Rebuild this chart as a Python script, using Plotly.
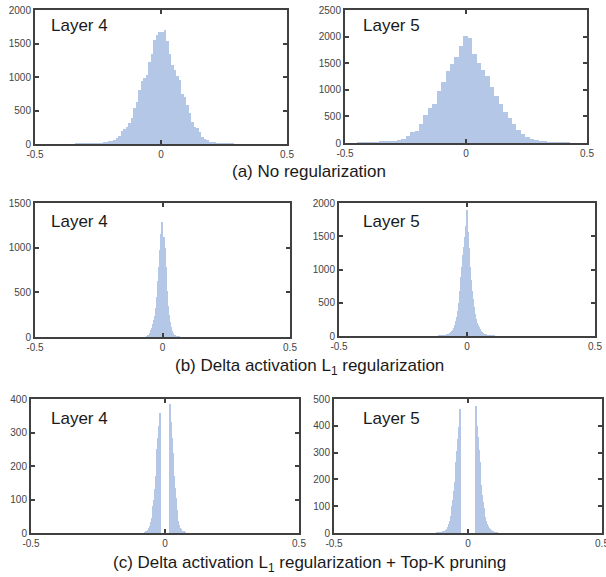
import numpy as np
import plotly.graph_objects as go

# ---------------- data ----------------
# (a) No regularization
A4_START, A4_BIN = -0.335, 0.01
A4_COUNTS = [1, 2, 2, 3, 4, 5, 6, 8, 10, 12, 15, 20, 35, 40, 50, 65, 85, 120, 195, 220,
             260, 310, 385, 530, 630, 805, 940, 980, 1030, 1230, 1340, 1550, 1625, 1670,
             1670, 1700, 1530, 1340, 1180, 1110, 1010, 955, 740, 705, 580, 460, 335, 260,
             235, 185, 110, 80, 60, 35, 25, 18, 12, 8, 6, 4, 3, 2, 1]

A5_START, A5_BIN = -0.4412, 0.0183
A5_COUNTS = [5, 8, 10, 12, 15, 20, 25, 30, 45, 60, 75, 125, 200, 220, 355, 530, 655, 740,
             970, 1155, 1345, 1490, 1625, 1815, 2020,
             1980, 1670, 1500, 1375, 1265, 1060, 890, 740, 580, 470, 355, 240, 160, 105,
             70, 50, 30, 20, 12, 8, 5, 3, 2]

# (b) Delta activation L1 regularization
B4_START, B4_BIN = -0.060, 0.004
B4_COUNTS = [5, 12, 28, 45, 78, 105, 140, 185, 240, 330, 450, 630, 787, 975, 1150, 1290,
             1120, 1000, 787, 520, 350, 250, 170, 110, 70, 45, 25, 15, 10, 6, 4, 2]

B5_START, B5_BIN = -0.108, 0.004
B5_COUNTS = [1, 2, 3, 4, 6, 9, 12, 16, 22, 30, 40, 55, 72, 95, 125, 170, 230, 290, 380,
             500, 680, 880, 1040, 1220, 1340, 1490, 1650, 1895,
             1560, 1330, 1042, 840, 680, 560, 430, 330, 250, 200, 160, 130, 100, 75, 58,
             45, 35, 26, 18, 13, 9, 6, 4, 3, 2, 1]

# (c) Delta activation L1 regularization + Top-K pruning
C_BIN = 0.003
C4_NEG_START = -0.0735
C4_NEG_COUNTS = [2, 3, 5, 8, 12, 16, 22, 32, 45, 64, 80, 100, 130, 170, 210, 250, 285, 320, 359]
C4_POS_START = 0.0195
C4_POS_COUNTS = [386, 330, 285, 240, 200, 170, 135, 105, 70, 50, 35, 25, 16, 11, 8, 5, 4, 3, 2]

C5_NEG_START = -0.1155
C5_NEG_COUNTS = [1, 1, 1, 2, 2, 3, 3, 4, 5, 6, 8, 10, 14, 18, 24, 32, 45, 62, 82, 100, 125,
                 155, 190, 225, 266, 305, 350, 395, 430, 463]
C5_POS_START = 0.0285
C5_POS_COUNTS = [475, 430, 400, 360, 310, 266, 220, 180, 140, 115, 95, 80, 60, 45, 35, 27,
                 21, 17, 14, 10, 8, 6, 4, 3, 2, 2, 1, 1]

X_TICKS = [-0.5, 0, 0.5]
X_TICK_TEXT = ["-0.5", "0", "0.5"]
PANEL_NAMES = ["Layer 4", "Layer 5", "Layer 4", "Layer 5", "Layer 4", "Layer 5"]
Y_MAX = [2000, 2500, 1500, 2000, 400, 500]
Y_STEP = [500, 500, 500, 500, 100, 100]
CAPTIONS = ["(a) No regularization",
            "(b) Delta activation L<sub>1</sub> regularization",
            "(c) Delta activation L<sub>1</sub> regularization + Top-K pruning"]


def centers(start, width, n):
    return start + width * np.arange(n)


hists = [
    (centers(A4_START, A4_BIN, len(A4_COUNTS)), A4_COUNTS, A4_BIN),
    (centers(A5_START, A5_BIN, len(A5_COUNTS)), A5_COUNTS, A5_BIN),
    (centers(B4_START, B4_BIN, len(B4_COUNTS)), B4_COUNTS, B4_BIN),
    (centers(B5_START, B5_BIN, len(B5_COUNTS)), B5_COUNTS, B5_BIN),
    (np.concatenate([centers(C4_NEG_START, C_BIN, len(C4_NEG_COUNTS)),
                     centers(C4_POS_START, C_BIN, len(C4_POS_COUNTS))]),
     C4_NEG_COUNTS + C4_POS_COUNTS, C_BIN),
    (np.concatenate([centers(C5_NEG_START, C_BIN, len(C5_NEG_COUNTS)),
                     centers(C5_POS_START, C_BIN, len(C5_POS_COUNTS))]),
     C5_NEG_COUNTS + C5_POS_COUNTS, C_BIN),
]

# ---------------- layout (pixel boxes) ----------------
W, H = 606, 577
BOXES = [  # left, right, top, bottom in px
    (35, 287, 10, 144),
    (345, 587, 10, 143),
    (35, 290, 203, 337),
    (339, 595, 203, 336),
    (31, 299, 399, 533),
    (334, 602, 399, 533),
]
LABEL_POS = [(49, 26), (361, 26), (49, 221), (361, 222), (49, 418), (361, 418)]
CAPTION_Y = [172, 367, 564]
CAPTION_X = 309

BAR = "#b4c7e7"
FRAME = "#404040"
TICKFONT = dict(family="Liberation Sans, Arial, sans-serif", size=10, color="#444444")
TEXTFONT = dict(family="Liberation Sans, Arial, sans-serif", size=17, color="#1a1a1a")

fig = go.Figure()
layout = dict(width=W, height=H, autosize=False, template="none",
              margin=dict(l=0, r=0, t=0, b=0, pad=0),
              paper_bgcolor="white", plot_bgcolor="white",
              showlegend=False, bargap=0, annotations=[])

for i, ((xs, ys, bw), box) in enumerate(zip(hists, BOXES)):
    k = "" if i == 0 else str(i + 1)
    fig.add_trace(go.Bar(
        x=xs, y=ys, width=bw,
        marker=dict(color=BAR, line=dict(width=0)),
        xaxis="x" + k, yaxis="y" + k, hoverinfo="skip"))
    l, r, t, b = box
    common = dict(showline=True, mirror="allticks", linecolor=FRAME, linewidth=2,
                  ticks="inside", ticklen=4, tickwidth=1.5, tickcolor=FRAME,
                  showgrid=False, zeroline=False, tickfont=TICKFONT, fixedrange=True,
                  automargin=False, ticklabeloverflow="allow")
    layout["xaxis" + k] = dict(domain=[l / W, r / W], anchor="y" + k,
                               range=[-0.5, 0.5], tickmode="array",
                               tickvals=X_TICKS, ticktext=X_TICK_TEXT, **common)
    layout["yaxis" + k] = dict(domain=[1 - b / H, 1 - t / H], anchor="x" + k,
                               range=[0, Y_MAX[i]], tickmode="linear", tick0=0,
                               dtick=Y_STEP[i], **common)
    lx, ly = LABEL_POS[i]
    layout["annotations"].append(dict(
        text=PANEL_NAMES[i], x=lx / W, y=1 - ly / H, xref="paper", yref="paper",
        xanchor="left", yanchor="middle", showarrow=False, font=TEXTFONT))

for cap, cy in zip(CAPTIONS, CAPTION_Y):
    layout["annotations"].append(dict(
        text=cap, x=CAPTION_X / W, y=1 - cy / H, xref="paper", yref="paper",
        xanchor="center", yanchor="middle", showarrow=False, font=TEXTFONT))

fig.update_layout(**layout)
fig.write_html(
    "out.html",
    config={"displayModeBar": False},
    post_script="document.body.style.margin='0';document.body.style.overflow='hidden';",
)
